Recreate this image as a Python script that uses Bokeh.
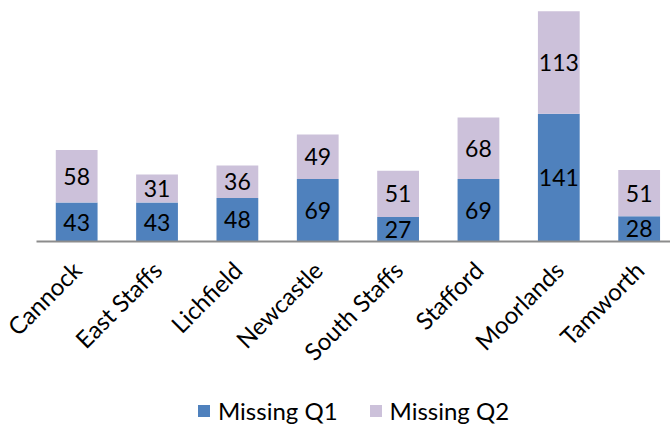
import math
from bokeh.plotting import figure
from bokeh.layouts import column
from bokeh.models import ColumnDataSource, Range1d, Legend, LegendItem
from bokeh.core.properties import value
from bokeh.embed import file_html
from bokeh.resources import INLINE

categories = ["Cannock", "East Staffs", "Lichfield", "Newcastle", "South Staffs", "Stafford", "Moorlands", "Tamworth"]
missing_q1 = [43, 43, 48, 69, 27, 69, 141, 28]
missing_q2 = [58, 31, 36, 49, 51, 68, 113, 51]
series_names = ["Missing Q1", "Missing Q2"]

FONT = "Lato"
C1 = "#4F81BD"
C2 = "#CCC1DA"

xs = list(range(len(categories)))
src = ColumnDataSource(dict(
    x=xs,
    top1=missing_q1,
    bot2=missing_q1,
    top2=[a + b for a, b in zip(missing_q1, missing_q2)],
    mid1=[a / 2 for a in missing_q1],
    mid2=[a + b / 2 for a, b in zip(missing_q1, missing_q2)],
    lab1=[str(v) for v in missing_q1],
    lab2=[str(v) for v in missing_q2],
))

p = figure(width=670, height=390, output_backend="svg", toolbar_location=None,
           x_range=Range1d(-0.5, 7.39), y_range=Range1d(0, 266),
           min_border_top=0, min_border_right=0, min_border_left=36, min_border_bottom=149)

r1 = p.vbar(x="x", bottom=0, top="top1", width=0.52, source=src, fill_color=C1, line_color=None)
r2 = p.vbar(x="x", bottom="bot2", top="top2", width=0.52, source=src, fill_color=C2, line_color=None)

p.text(x="x", y="mid1", text="lab1", source=src, text_align="center", text_baseline="middle",
       text_font=value(FONT), text_font_size="23px", text_color="black")
p.text(x="x", y="mid2", text="lab2", source=src, text_align="center", text_baseline="middle",
       text_font=value(FONT), text_font_size="23px", text_color="black")

p.yaxis.visible = False
p.xgrid.visible = False
p.ygrid.visible = False
p.outline_line_color = None

ax = p.xaxis[0]
ax.ticker = xs
ax.major_label_overrides = {i: c for i, c in enumerate(categories)}
ax.major_label_orientation = math.pi / 4
ax.major_label_text_font = FONT
ax.major_label_text_font_size = "24px"
ax.major_label_text_color = "black"
ax.major_label_standoff = 18
ax.major_tick_line_color = None
ax.minor_tick_line_color = None
ax.axis_line_color = "#8C8C8C"
ax.axis_line_width = 2

# legend strip (swatches live outside the strip's visible range)
pl = figure(width=670, height=40, output_backend="svg", toolbar_location=None,
            x_range=Range1d(0, 1), y_range=Range1d(0, 1),
            min_border_top=0, min_border_right=0, min_border_left=0, min_border_bottom=0)
pl.axis.visible = False
pl.grid.visible = False
pl.outline_line_color = None
g1 = pl.vbar(x=[5], top=[1], width=0.1, fill_color=C1, line_color=None)
g2 = pl.vbar(x=[5], top=[1], width=0.1, fill_color=C2, line_color=None)
legend = Legend(items=[LegendItem(label=series_names[0], renderers=[g1]),
                       LegendItem(label=series_names[1], renderers=[g2])],
                orientation="horizontal", location=(160, 5),
                label_text_font=FONT, label_text_font_size="24px", label_text_color="black",
                glyph_width=15, glyph_height=15, spacing=30, label_standoff=7,
                border_line_color=None, background_fill_alpha=0,
                margin=0, padding=4)
pl.add_layout(legend, "center")

layout = column(p, pl, spacing=0)
open("out.html", "w").write(file_html(layout, INLINE))
